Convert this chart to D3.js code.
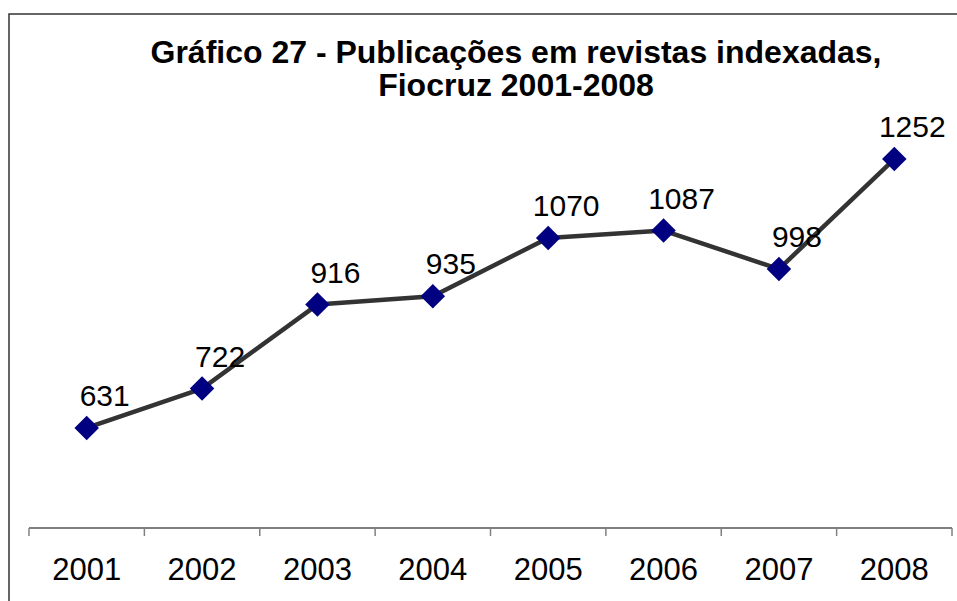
<!DOCTYPE html>
<html>
<head>
<meta charset="utf-8">
<script src="https://cdn.jsdelivr.net/npm/d3@7"></script>
<style>
  body { margin: 0; background: #fff; }
  text { font-family: Arial, "Liberation Sans", sans-serif; }
</style>
</head>
<body>
<svg class="chart"></svg>
<script>
var years = ["2001", "2002", "2003", "2004", "2005", "2006", "2007", "2008"];
var publications = [631, 722, 916, 935, 1070, 1087, 998, 1252];
var titleLines = ["Gráfico 27 - Publicações em revistas indexadas,", "Fiocruz 2001-2008"];

var width = 957, height = 601;
var margin = {top: 95, right: 5, bottom: 73, left: 29};

var chart = d3.select('.chart')
	.attr('width', width)
	.attr('height', height);

// outer frame (runs off right and bottom edges like the original)
chart.append('rect')
	.attr('x', 9)
	.attr('y', 14)
	.attr('width', width)
	.attr('height', height)
	.attr('fill', 'none')
	.attr('stroke', '#333')
	.attr('stroke-width', 1.5);

// title, one text per line
chart.selectAll('.title')
	.data(titleLines)
	.enter().append('text')
	.attr('class', 'title')
	.attr('x', 516)
	.attr('y', function(d, i){ return 63 + i * 33; })
	.attr('text-anchor', 'middle')
	.style('font-size', '32px')
	.style('font-weight', 'bold')
	.text(function(d){ return d; });

var x = d3.scaleBand()
	.domain(years)
	.range([margin.left, 952]);
var y = d3.scaleLinear()
	.domain([400, 1400])
	.range([height - margin.bottom, margin.top]);

var g = chart.append('g');

// x axis
var axisY = y(400);
g.append('line')
	.attr('x1', x.range()[0]).attr('x2', x.range()[1])
	.attr('y1', axisY).attr('y2', axisY)
	.attr('stroke', '#000')
	.attr('stroke-width', 1.2);

var bounds = years.map(function(d){ return x(d); }).concat([x.range()[1]]);
g.selectAll('.tick')
	.data(bounds)
	.enter().append('line')
	.attr('class', 'tick')
	.attr('x1', function(d){ return d; }).attr('x2', function(d){ return d; })
	.attr('y1', axisY).attr('y2', axisY + 8)
	.attr('stroke', '#808080')
	.attr('stroke-width', 1.5);

g.selectAll('.xlabel')
	.data(years)
	.enter().append('text')
	.attr('class', 'xlabel')
	.attr('x', function(d){ return x(d) + x.bandwidth() / 2; })
	.attr('y', 580)
	.attr('text-anchor', 'middle')
	.style('font-size', '31px')
	.text(function(d){ return d; });

var data = years.map(function(d, i){ return {year: d, value: publications[i]}; });

var line = d3.line()
	.x(function(d){ return x(d.year) + x.bandwidth() / 2; })
	.y(function(d){ return y(d.value); });

g.append('path')
	.datum(data)
	.attr('fill', 'none')
	.attr('stroke', '#333333')
	.attr('stroke-width', 4.5)
	.attr('stroke-linejoin', 'round')
	.attr('d', line);

var diamond = d3.symbol().type(d3.symbolSquare).size(300);
g.selectAll('.marker')
	.data(data)
	.enter().append('path')
	.attr('class', 'marker')
	.attr('d', diamond)
	.attr('fill', '#000080')
	.attr('transform', function(d){
		return 'translate(' + (x(d.year) + x.bandwidth() / 2) + ',' + y(d.value) + ') rotate(45)';
	});

g.selectAll('.vlabel')
	.data(data)
	.enter().append('text')
	.attr('class', 'vlabel')
	.attr('x', function(d){ return x(d.year) + x.bandwidth() / 2 + 18; })
	.attr('y', function(d){ return y(d.value) - 22; })
	.attr('text-anchor', 'middle')
	.style('font-size', '30px')
	.text(function(d){ return d.value; });
</script>
</body>
</html>
